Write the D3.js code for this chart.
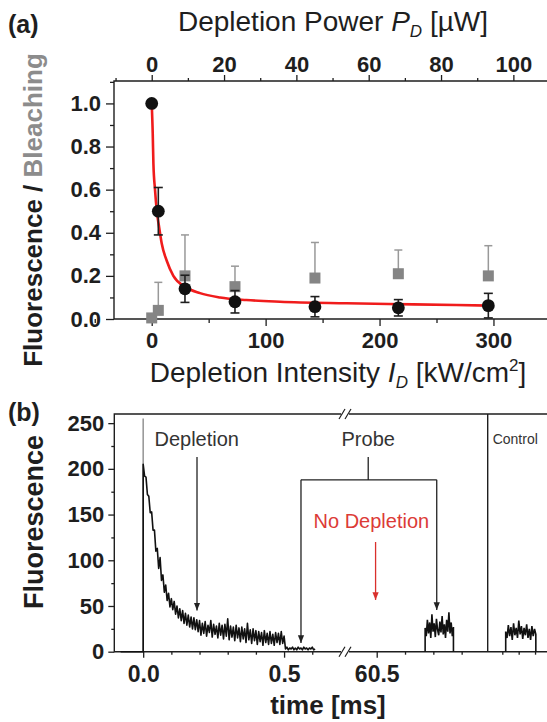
<!DOCTYPE html>
<html>
<head>
<meta charset="utf-8">
<title>Depletion</title>
<script src="https://cdn.jsdelivr.net/npm/d3@7/dist/d3.min.js"></script>
<style>
  body { margin: 0; background: #fff; }
  svg text { font-family: "Liberation Sans", Arial, sans-serif; }
</style>
</head>
<body>
<script>
// ---- panel (a) data
const intensity = [0, 5.8, 29.2, 73.1, 143.3, 216.5, 295.5];      // kW/cm2
const fluor     = [1.0, 0.50, 0.14, 0.08, 0.057, 0.052, 0.062];
const fluorErr  = [0, 0.11, 0.063, 0.052, 0.047, 0.038, 0.057];
const bleach    = [0.005, 0.04, 0.20, 0.15, 0.19, 0.21, 0.20];
const bleachErr = [0, 0.13, 0.19, 0.095, 0.165, 0.11, 0.14];
// red fit
const fitI = [0, 0.9, 1.5, 2.9, 4.4, 6.4, 8.8, 13.2, 19, 29, 42.4, 60, 83, 112.6, 171, 229.7, 297];
const fitF = [1.0, 0.86, 0.72, 0.60, 0.505, 0.43, 0.35, 0.27, 0.20, 0.15, 0.12, 0.10, 0.088, 0.08, 0.073, 0.068, 0.062];

const intTicks = [0, 100, 200, 300];
const intMinor = [-50, 50, 150, 250, 350];
const powTicks = [0, 20, 40, 60, 80, 100];
const powMinor = [-10, 10, 30, 50, 70, 90, 110];
const fTicks = [0, 0.2, 0.4, 0.6, 0.8, 1.0];
const fMinor = [0.1, 0.3, 0.5, 0.7, 0.9, 1.1];

// ---- panel (b) data
const traceStep = 0.005;   // ms, trace from 0.0 ms
const decay = [205, 192, 191, 172, 170, 152, 153, 133, 133, 110, 113, 91, 103, 78, 84, 65, 73, 56, 64, 49, 58,
  46, 55, 41, 50, 37, 47, 34, 45, 31, 42, 29, 40, 27, 38, 25, 37, 24, 35, 22, 34,
  18, 31, 20, 33, 17, 29, 21, 34, 16, 30, 19, 28, 15, 31, 18, 29, 14, 30, 17, 36,
  13, 28, 16, 27, 12, 29, 15, 26, 11, 27, 14, 25, 10, 31, 13, 24, 9, 25, 12, 23,
  8, 22, 11, 21, 7, 23, 10, 20, 8, 22, 9, 19, 7, 21, 10, 20, 8, 22, 9, 17,
  3, 5, 2, 4, 3, 5, 2, 4, 2, 5, 3, 4, 2, 5, 3, 4, 2, 4, 3, 5, 2, 3];
const spikeHeight = 255;
const probeStart = 60.671, probeStep = 0.004;
const probe = [26, 17, 35, 20, 32, 15, 41, 22, 31, 16, 36, 24, 18, 33, 21, 39, 19, 30, 15, 35, 22, 43, 20, 32, 17, 27];
const ctrlStart = 0.0604, ctrlStep = 0.004;
const control = [22, 15, 29, 17, 27, 13, 31, 18, 26, 15, 34, 19, 28, 14, 26, 18, 30, 15, 25, 13, 28, 17, 25, 19];

const bTicks = [0, 50, 100, 150, 200, 250];
const bMinor = [25, 75, 125, 175, 225];
const seg1Ticks = [0, 0.5], seg1Minor = [0.1, 0.2, 0.3, 0.4, 0.6];
const seg2Ticks = [60.5], seg2Minor = [60.6, 60.7, 60.8];
const ctrlTicks = [0.05, 0.1, 0.15];

const width = 547, height = 722;
const ink = '#1e1e1e';
const svg = d3.select('body').append('svg').attr('width', width).attr('height', height);

function styleAxis(g, size) {
  g.select('.domain').remove();
  g.selectAll('line').attr('stroke', ink).attr('stroke-width', 1.3);
  g.selectAll('text').attr('font-size', size).attr('font-weight', 'bold').attr('fill', ink)
    .style('font-family', '"Liberation Sans", Arial, sans-serif');
}

// ================= panel (a)
const a = { left: 114, right: 547, top: 81, bottom: 319 };
const xI = d3.scaleLinear().domain([-33.1, 347]).range([a.left, a.right]);
const xP = d3.scaleLinear().domain([-10.43, 109.3]).range([a.left, a.right]);
const yA = d3.scaleLinear().domain([0, 1.104]).range([a.bottom, a.top]);

const ga = svg.append('g');
ga.append('g').attr('transform', `translate(0,${a.bottom})`)
  .call(d3.axisBottom(xI).tickValues(intTicks).tickSize(7).tickPadding(6).tickFormat(d3.format('d')))
  .call(g => styleAxis(g, 22));
ga.append('g').attr('transform', `translate(0,${a.bottom})`)
  .call(d3.axisBottom(xI).tickValues(intMinor).tickSize(4).tickFormat(''))
  .call(g => styleAxis(g, 22));
ga.append('g').attr('transform', `translate(0,${a.top})`)
  .call(d3.axisTop(xP).tickValues(powTicks).tickSize(6).tickPadding(3).tickFormat(d3.format('d')))
  .call(g => styleAxis(g, 22));
ga.append('g').attr('transform', `translate(0,${a.top})`)
  .call(d3.axisTop(xP).tickValues(powMinor).tickSize(3).tickFormat(''))
  .call(g => styleAxis(g, 22));
ga.append('g').attr('transform', `translate(${a.left},0)`)
  .call(d3.axisLeft(yA).tickValues(fTicks).tickSize(8).tickPadding(5).tickFormat(d3.format('.1f')))
  .call(g => styleAxis(g, 22));
ga.append('g').attr('transform', `translate(${a.left},0)`)
  .call(d3.axisLeft(yA).tickValues(fMinor).tickSize(4).tickFormat(''))
  .call(g => styleAxis(g, 22));

// frame
ga.append('path')
  .attr('d', `M${a.right},${a.top}H${a.left}V${a.bottom}H${a.right}`)
  .attr('fill', 'none').attr('stroke', ink).attr('stroke-width', 1.4);

// gray bleaching, one-sided error bars
const grey = '#858585';
intensity.forEach((x, i) => {
  if (bleachErr[i] > 0) {
    const cx = xI(x), y0 = yA(bleach[i]), y1 = yA(bleach[i] + bleachErr[i]);
    ga.append('line').attr('x1', cx).attr('x2', cx).attr('y1', y0).attr('y2', y1)
      .attr('stroke', '#999').attr('stroke-width', 1.5);
    ga.append('line').attr('x1', cx - 4).attr('x2', cx + 4).attr('y1', y1).attr('y2', y1)
      .attr('stroke', '#999').attr('stroke-width', 1.5);
  }
});
ga.selectAll('.sq').data(intensity).enter().append('rect')
  .attr('x', d => xI(d) - 5.5).attr('y', (d, i) => yA(bleach[i]) - 5.5)
  .attr('width', 11).attr('height', 11).attr('fill', grey);

// red fit
const fitLine = d3.line().x(d => xI(d[0])).y(d => yA(d[1])).curve(d3.curveMonotoneX);
ga.append('path').datum(fitI.map((x, i) => [x, fitF[i]]))
  .attr('d', fitLine).attr('fill', 'none').attr('stroke', '#f01c1c').attr('stroke-width', 2.6);

// black fluorescence with error bars
intensity.forEach((x, i) => {
  if (fluorErr[i] > 0) {
    const cx = xI(x), y1 = yA(fluor[i] + fluorErr[i]), y2 = yA(Math.max(0, fluor[i] - fluorErr[i]));
    ga.append('line').attr('x1', cx).attr('x2', cx).attr('y1', y1).attr('y2', y2)
      .attr('stroke', ink).attr('stroke-width', 1.6);
    [y1, y2].forEach(yy => ga.append('line').attr('x1', cx - 4.5).attr('x2', cx + 4.5)
      .attr('y1', yy).attr('y2', yy).attr('stroke', ink).attr('stroke-width', 1.6));
  }
});
ga.selectAll('.dot').data(intensity).enter().append('circle')
  .attr('cx', d => xI(d)).attr('cy', (d, i) => yA(fluor[i])).attr('r', 6.4).attr('fill', '#111');

// titles (a)
const tTop = ga.append('text').attr('x', 333).attr('y', 31).attr('text-anchor', 'middle')
  .attr('font-size', 28).attr('fill', ink);
tTop.append('tspan').text('Depletion Power ');
tTop.append('tspan').attr('font-style', 'italic').text('P');
tTop.append('tspan').attr('font-style', 'italic').attr('font-size', 17).attr('dy', 6).text('D');
tTop.append('tspan').attr('dy', -6).text(' [µW]');

const tBot = ga.append('text').attr('x', 338).attr('y', 382).attr('text-anchor', 'middle')
  .attr('font-size', 28).attr('fill', ink);
tBot.append('tspan').text('Depletion Intensity ');
tBot.append('tspan').attr('font-style', 'italic').text('I');
tBot.append('tspan').attr('font-style', 'italic').attr('font-size', 17).attr('dy', 6).text('D');
tBot.append('tspan').attr('dy', -6).text(' [kW/cm');
tBot.append('tspan').attr('font-size', 17).attr('dy', -11).text('2');
tBot.append('tspan').attr('dy', 11).text(']');

const tY = ga.append('text').attr('transform', 'translate(42,210) rotate(-90)')
  .attr('text-anchor', 'middle').attr('font-size', 26).attr('font-weight', 'bold');
tY.append('tspan').attr('fill', ink).text('Fluorescence / ');
tY.append('tspan').attr('fill', '#8c8c8c').text('Bleaching');

svg.append('text').attr('x', 8).attr('y', 33).attr('font-size', 25).attr('font-weight', 'bold')
  .attr('fill', ink).text('(a)');

// ================= panel (b)
const b = { left: 114.3, right: 547, top: 414, bottom: 651.7, brk: 345, ctrl: 487.7 };
const yB = d3.scaleLinear().domain([0, 260]).range([b.bottom, b.top]);
const s1 = d3.scaleLinear().domain([-0.1025, 0.7162]).range([b.left, b.brk]);
const s2 = d3.scaleLinear().domain([60.388, 60.892]).range([b.brk, b.ctrl]);
const s3 = d3.scaleLinear().domain([0.0054, 0.1865]).range([b.ctrl, b.right]);

const gb = svg.append('g');
gb.append('g').attr('transform', `translate(${b.left},0)`)
  .call(d3.axisLeft(yB).tickValues(bTicks).tickSize(6).tickPadding(4))
  .call(g => styleAxis(g, 22));
gb.append('g').attr('transform', `translate(${b.left},0)`)
  .call(d3.axisLeft(yB).tickValues(bMinor).tickSize(3).tickFormat(''))
  .call(g => styleAxis(g, 22));
[[s1, seg1Ticks, seg1Minor, d3.format('.1f')], [s2, seg2Ticks, seg2Minor, d3.format('.1f')], [s3, [], ctrlTicks, '']]
  .forEach(([sc, major, minor, fmt]) => {
    gb.append('g').attr('transform', `translate(0,${b.bottom})`)
      .call(d3.axisBottom(sc).tickValues(major).tickSize(6).tickPadding(8).tickFormat(fmt))
      .call(g => styleAxis(g, 23));
    gb.append('g').attr('transform', `translate(0,${b.bottom})`)
      .call(d3.axisBottom(sc).tickValues(minor).tickSize(3).tickFormat(''))
      .call(g => styleAxis(g, 23));
  });

// frame with breaks
const gap = 4;
gb.append('path')
  .attr('d', `M${b.brk - gap},${b.top}H${b.left}V${b.bottom}H${b.brk - gap}` +
             `M${b.brk + gap},${b.top}H${b.right}M${b.brk + gap},${b.bottom}H${b.right}` +
             `M${b.ctrl},${b.top}V${b.bottom}`)
  .attr('fill', 'none').attr('stroke', ink).attr('stroke-width', 1.4);
[b.top, b.bottom].forEach(yy => {
  [-3, 3].forEach(dx => gb.append('line')
    .attr('x1', b.brk + dx - 3).attr('y1', yy + 5).attr('x2', b.brk + dx + 3).attr('y2', yy - 5)
    .attr('stroke', ink).attr('stroke-width', 1.2));
});

// traces
const trace = d3.line().x(d => d[0]).y(d => yB(d[1]));
gb.append('line').attr('x1', s1(0)).attr('x2', s1(0)).attr('y1', yB(0)).attr('y2', yB(spikeHeight))
  .attr('stroke', '#9a9a9a').attr('stroke-width', 1.6);
gb.append('path').datum([[s1(-0.08), 0], [s1(0), 0]].concat(decay.map((v, i) => [s1(i * traceStep), v])))
  .attr('d', trace).attr('fill', 'none').attr('stroke', '#111').attr('stroke-width', 1.6)
  .attr('stroke-linejoin', 'round');
const probePts = probe.map((v, i) => [s2(probeStart + i * probeStep), v]);
gb.append('path').datum([[probePts[0][0], 0]].concat(probePts, [[probePts[probePts.length - 1][0], 0]]))
  .attr('d', trace).attr('fill', 'none').attr('stroke', '#111').attr('stroke-width', 1.6);
const ctrlPts = control.map((v, i) => [s3(ctrlStart + i * ctrlStep), v]);
gb.append('path').datum([[ctrlPts[0][0], 0]].concat(ctrlPts, [[ctrlPts[ctrlPts.length - 1][0], 0]]))
  .attr('d', trace).attr('fill', 'none').attr('stroke', '#111').attr('stroke-width', 1.6);

// annotations
const defs = svg.append('defs');
[['arrK', '#222'], ['arrR', '#d9302c']].forEach(([id, c]) => {
  defs.append('marker').attr('id', id).attr('viewBox', '0 0 10 10').attr('refX', 10).attr('refY', 5)
    .attr('markerWidth', 6).attr('markerHeight', 7).attr('orient', 'auto')
    .append('path').attr('d', 'M0,1L10,5L0,9Z').attr('fill', c);
});
function arrow(x, y1, y2, id, c) {
  gb.append('line').attr('x1', x).attr('x2', x).attr('y1', y1).attr('y2', y2)
    .attr('stroke', c).attr('stroke-width', 1.3).attr('marker-end', `url(#${id})`);
}
gb.append('text').attr('x', s1(0.19)).attr('y', yB(225)).attr('text-anchor', 'middle')
  .attr('font-size', 20).attr('fill', '#333').text('Depletion');
arrow(s1(0.191), yB(213), yB(45), 'arrK', '#222');

gb.append('text').attr('x', s2(60.47)).attr('y', yB(225)).attr('text-anchor', 'middle')
  .attr('font-size', 20).attr('fill', '#333').text('Probe');
const bx1 = s1(0.56), bx2 = s2(60.712), by = yB(188);
gb.append('path').attr('d', `M${s2(60.47)},${yB(213)}V${by}M${bx1},${by}H${bx2}`)
  .attr('fill', 'none').attr('stroke', '#222').attr('stroke-width', 1.3);
arrow(bx1, by, yB(9.5), 'arrK', '#222');
arrow(bx2, by, yB(45.6), 'arrK', '#222');

gb.append('text').attr('x', s2(60.481)).attr('y', yB(135.7)).attr('text-anchor', 'middle')
  .attr('font-size', 20).attr('fill', '#dc3b37').text('No Depletion');
arrow(s2(60.496), yB(120), yB(56.6), 'arrR', '#d9302c');

gb.append('text').attr('x', b.ctrl + 5).attr('y', yB(227)).attr('font-size', 14)
  .attr('fill', '#333').text('Control');

// titles (b)
gb.append('text').attr('transform', 'translate(43,522) rotate(-90)').attr('text-anchor', 'middle')
  .attr('font-size', 27).attr('font-weight', 'bold').attr('fill', ink).text('Fluorescence');
gb.append('text').attr('x', 328).attr('y', 714).attr('text-anchor', 'middle')
  .attr('font-size', 26).attr('font-weight', 'bold').attr('fill', ink).text('time [ms]');
svg.append('text').attr('x', 8).attr('y', 421).attr('font-size', 25).attr('font-weight', 'bold')
  .attr('fill', ink).text('(b)');
</script>
</body>
</html>
